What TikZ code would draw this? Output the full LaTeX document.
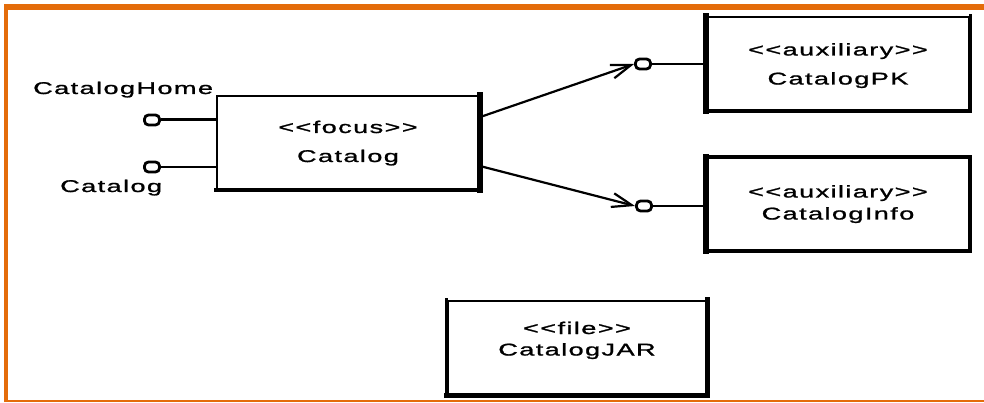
\documentclass[tikz,border=0pt]{standalone}
\usepackage{fontspec}
\setmainfont{Liberation Sans}
\newfontfamily\umlfont[FakeStretch=1.6,LetterSpace=8,FakeBold=1.2]{Liberation Sans}
\usetikzlibrary{arrows.meta}
\definecolor{frameorange}{HTML}{E46C0A}
\tikzset{
  box/.style={draw, line width=2pt, inner sep=0pt},
  txt/.style={font=\umlfont\fontsize{17}{20}\selectfont, anchor=base, inner sep=0pt},
  port/.style={draw, fill=white, line width=2.8pt, rounded corners=4pt,
               minimum width=15pt, minimum height=10pt, inner sep=0pt},
  arr/.style={line width=2.2pt, -{Straight Barb[length=20pt,width=14pt,line width=2.2pt]}},
  heavy/.style={line width=#1, line cap=rect},
}
\begin{document}
\begin{tikzpicture}[x=1pt,y=-1pt]
\useasboundingbox (0,0) rectangle (984,403);
% orange frame
\fill[frameorange] (4,4) rectangle (984,10);
\fill[frameorange] (4,4) rectangle (7.5,402);
\fill[frameorange] (4,400) rectangle (984,402);

% component boxes
\node[box, minimum width=262pt, minimum height=93.5pt] (fo) at (348,142.75) {};
\draw[heavy=6pt] (fo.north east) -- (fo.south east);
\draw[heavy=4pt] (fo.south west) -- (fo.south east);

\node[box, minimum width=262.5pt, minimum height=93.5pt] (pk) at (837.75,63.75) {};
\draw[heavy=6pt] (pk.north west) -- (pk.south west);
\draw[heavy=3pt] (pk.south west) -- (pk.south east) -- (pk.north east);

\node[box, minimum width=262pt, minimum height=91.5pt] (inf) at (838,203.75) {};
\draw[heavy=6pt] (inf.north west) -- (inf.south west);
\draw[heavy=3pt] (inf.north west) -- (inf.north east) -- (inf.south east);
\draw[heavy=4pt] (inf.south west) -- (inf.south east);

\node[box, minimum width=258.5pt, minimum height=94pt] (jar) at (576.75,347.5) {};
\draw[heavy=3pt] (jar.north west) -- (jar.south west);
\draw[heavy=5pt] (jar.south west) -- (jar.south east) -- (jar.north east);

% box texts
\node[txt] (foS) at (348,133) {<<focus>>};
\node[txt] (foN) at (348,162) {Catalog};
\node[txt] (pkS) at (838,55.5) {<<auxiliary>>};
\node[txt] (pkN) at (838,84.5) {CatalogPK};
\node[txt] (infS) at (838,197.5) {<<auxiliary>>};
\node[txt] (infN) at (838,219.5) {CatalogInfo};
\node[txt] (jarS) at (577,334) {<<file>>};
\node[txt] (jarN) at (577,355.5) {CatalogJAR};

% provided interfaces of Catalog
\node[port] (ph) at (152,120) {};
\node[port] (pc) at (152,167) {};
\node[txt, anchor=base west] (phL) at (33,94) {CatalogHome};
\node[txt, anchor=base west] (pcL) at (60,192) {Catalog};
\draw[line width=3pt] (ph.east) -- (fo.west |- ph);
\draw[line width=1.5pt] (pc.east) -- (fo.west |- pc);

% interfaces of the auxiliary classes
\node[port] (pp) at (643,64) {};
\node[port] (ip) at (644,206) {};
\draw[line width=1.5pt] (pp.east) -- (pk.west |- pp);
\draw[line width=1.5pt] (ip.east) -- (inf.west |- ip);

% dependencies
\draw[arr] (fo.11) -- (pp.west);
\draw[arr] (fo.-10) -- (ip.west);
\end{tikzpicture}
\end{document}
